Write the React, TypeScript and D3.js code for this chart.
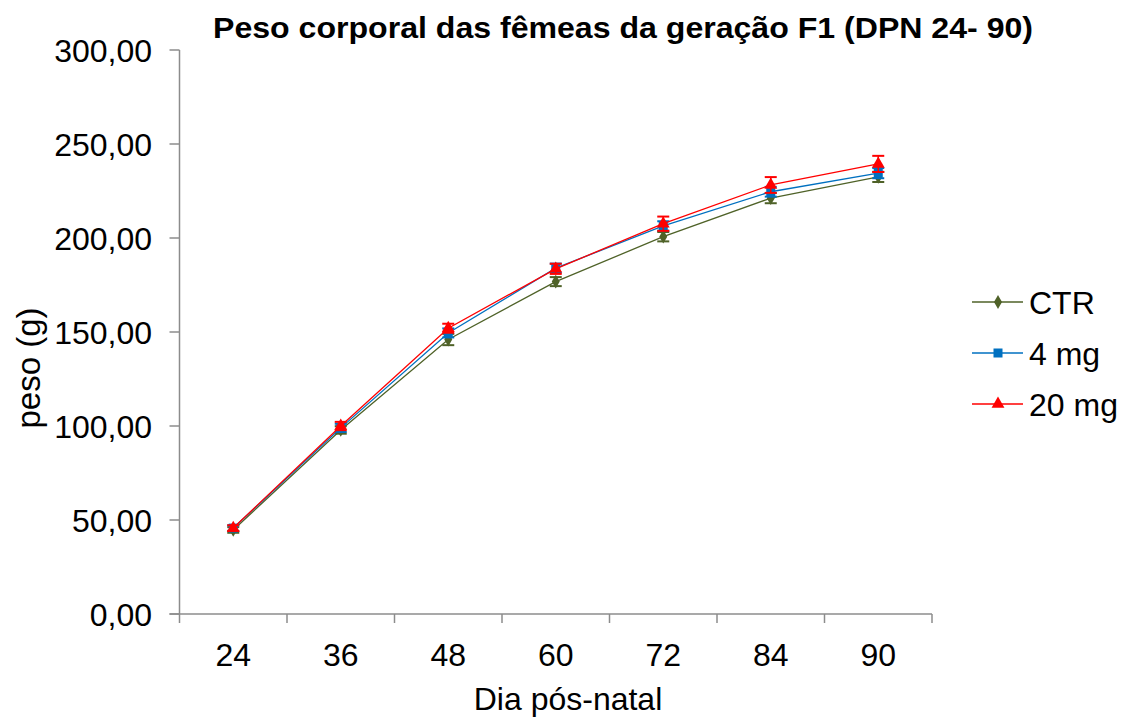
import React from 'react';
import * as d3 from 'd3';

const days = ['24', '36', '48', '60', '72', '84', '90'];
const ctr = [44.7, 97.9, 146.0, 176.8, 200.7, 221.2, 232.5];
const ctrErr = [1.5, 2.0, 3.0, 2.4, 2.5, 2.7, 2.7];
const mg4 = [45.7, 99.0, 149.5, 184.0, 206.4, 224.6, 234.5];
const mg4Err = [1.5, 2.2, 2.4, 2.4, 2.5, 2.6, 2.7];
const mg20 = [45.7, 100.0, 152.0, 183.6, 207.6, 228.2, 239.4];
const mg20Err = [1.5, 2.2, 2.4, 2.7, 3.8, 4.2, 4.3];
const yTicks = [0, 50, 100, 150, 200, 250, 300];

const series = [
  { name: 'CTR', values: ctr, errs: ctrErr, color: '#4F6228', marker: 'diamond' },
  { name: '4 mg', values: mg4, errs: mg4Err, color: '#0070C0', marker: 'square' },
  { name: '20 mg', values: mg20, errs: mg20Err, color: '#FF0000', marker: 'triangle' },
];

const font = 'Arial, "Liberation Sans", sans-serif';

function Marker({ type, x, y, color }: { type: string; x: number; y: number; color: string }) {
  if (type === 'diamond') {
    const s = d3.symbol(d3.symbolDiamond, 55)();
    return <path d={s || ''} transform={`translate(${x},${y})`} fill={color} />;
  }
  if (type === 'square') {
    return <rect x={x - 4.5} y={y - 4.5} width={9} height={9} fill={color} />;
  }
  const s = d3.symbol(d3.symbolTriangle, 72)();
  return <path d={s || ''} transform={`translate(${x},${y})`} fill={color} />;
}

export default function App() {
  const left = 179.5, right = 932, top = 50, bottom = 614;
  const x = d3.scaleBand().domain(days).range([left, right]);
  const y = d3.scaleLinear().domain([0, 300]).range([bottom, top]);
  const cx = (d: string) => (x(d) as number) + x.bandwidth() / 2;
  const line = d3.line<number>().x((_, i) => cx(days[i])).y(v => y(v));
  const fmt = (v: number) => v.toFixed(2).replace('.', ',');
  const axisColor = '#8c8c8c';

  return (
    <svg width={1122} height={720} style={{ position: 'absolute', left: 0, top: 0 }} fontFamily={font}>
      <rect width={1122} height={720} fill="#fff" />
      <text x={623} y={38} textAnchor="middle" fontSize={29} fontWeight="bold"
        textLength={820} lengthAdjust="spacingAndGlyphs">
        Peso corporal das fêmeas da geração F1 (DPN 24- 90)
      </text>

      {/* axes */}
      <line x1={left} x2={left} y1={top} y2={bottom} stroke={axisColor} strokeWidth={1.5} />
      <line x1={left - 10} x2={right} y1={bottom} y2={bottom} stroke={axisColor} strokeWidth={1.5} />
      {yTicks.map(t => (
        <g key={t}>
          <line x1={left - 10} x2={left} y1={y(t)} y2={y(t)} stroke={axisColor} strokeWidth={1.5} />
          <text x={152} y={y(t)} dy="0.36em" textAnchor="end" fontSize={32}>{fmt(t)}</text>
        </g>
      ))}
      {[...days.map(d => x(d) as number), right].map((p, i) => (
        <line key={i} x1={p} x2={p} y1={bottom} y2={bottom + 9} stroke={axisColor} strokeWidth={1.5} />
      ))}
      {days.map(d => (
        <text key={d} x={cx(d)} y={666} textAnchor="middle" fontSize={32}>{d}</text>
      ))}
      <text x={568} y={710} textAnchor="middle" fontSize={32}>Dia pós-natal</text>
      <text transform="translate(40,368) rotate(-90)" textAnchor="middle" fontSize={33}>peso (g)</text>

      {/* series */}
      {series.map(s => (
        <g key={s.name}>
          <path d={line(s.values) || ''} fill="none" stroke={s.color} strokeWidth={1.3} />
          {s.values.map((v, i) => {
            const px = cx(days[i]);
            const hi = y(v + s.errs[i]);
            const lo = y(v - s.errs[i]);
            return (
              <g key={i}>
                <line x1={px} x2={px} y1={hi} y2={lo} stroke={s.color} strokeWidth={1.5} />
                <line x1={px - 6} x2={px + 6} y1={hi} y2={hi} stroke={s.color} strokeWidth={2} />
                <line x1={px - 6} x2={px + 6} y1={lo} y2={lo} stroke={s.color} strokeWidth={2} />
                <Marker type={s.marker} x={px} y={y(v)} color={s.color} />
              </g>
            );
          })}
        </g>
      ))}

      {/* legend */}
      {series.map((s, i) => {
        const ly = 302 + i * 51;
        return (
          <g key={s.name}>
            <line x1={972} x2={1023} y1={ly} y2={ly} stroke={s.color} strokeWidth={1.3} />
            <Marker type={s.marker} x={998} y={ly} color={s.color} />
            <text x={1029} y={ly} dy="0.36em" fontSize={32}>{s.name}</text>
          </g>
        );
      })}
    </svg>
  );
}
